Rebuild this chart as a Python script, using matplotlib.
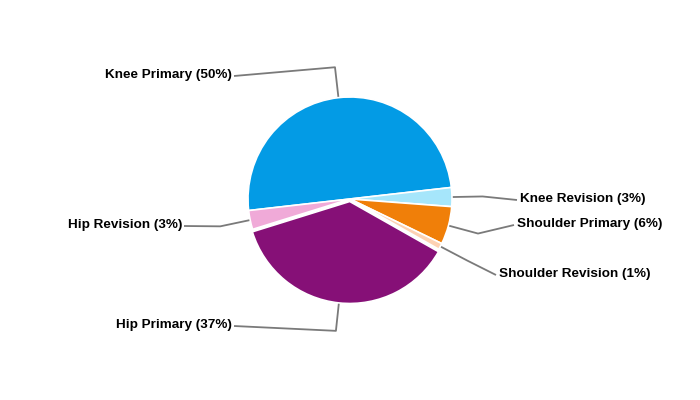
import numpy as np
import matplotlib
matplotlib.use("Agg")
import matplotlib.pyplot as plt

# slice data, clockwise from Knee Primary
labels = ["Knee Primary", "Knee Revision", "Shoulder Primary",
          "Shoulder Revision", "Hip Primary", "Hip Revision"]
values = [50, 3, 6, 1, 37, 3]
colors = ["#039be5", "#a6e6fb", "#f07f09", "#fdd2b3", "#861077", "#f0aad8"]

# label anchor (x, y in pixels from top-left) and alignment
label_pos = [(232, 75, "right"), (520, 199, "left"), (517, 224, "left"),
             (499, 274, "left"), (232, 325, "right"), (182, 225, "right")]

W, H = 700, 400
cx, cy, r = 350, H - 199, 102
start = 186.5

fig = plt.figure(figsize=(7, 4), dpi=100)
ax = fig.add_axes([0, 0, 1, 1])

explode = [0, 0, 0, 0, 2.5, 0]
wedges, _ = ax.pie(values, colors=colors, startangle=start, counterclock=False,
                   center=(cx, cy), radius=r, explode=explode,
                   wedgeprops=dict(edgecolor="white", linewidth=1.2))

ax.set_xlim(0, W)
ax.set_ylim(0, H)
ax.set_aspect("equal")
ax.axis("off")

total = sum(values)
ang = start
for lab, v, (lx, ly, ha) in zip(labels, values, label_pos):
    span = 360 * v / total
    mid = np.deg2rad(ang - span / 2)
    ang -= span
    p0 = (cx + r * np.cos(mid), cy + r * np.sin(mid))
    p1 = (cx + 1.3 * r * np.cos(mid), cy + 1.3 * r * np.sin(mid))
    ty = H - ly
    ex = lx + 2 if ha == "right" else lx - 3
    ax.plot([p0[0], p1[0], ex], [p0[1], p1[1], ty - 1], color="#7a7a7a", lw=1.3,
            solid_capstyle="butt", zorder=0)
    ax.text(lx, ty, f"{lab} ({v}%)", ha=ha, va="center", fontsize=9.7,
            fontweight="bold", family="Liberation Sans", color="black")

fig.savefig("out.png", dpi=100)
